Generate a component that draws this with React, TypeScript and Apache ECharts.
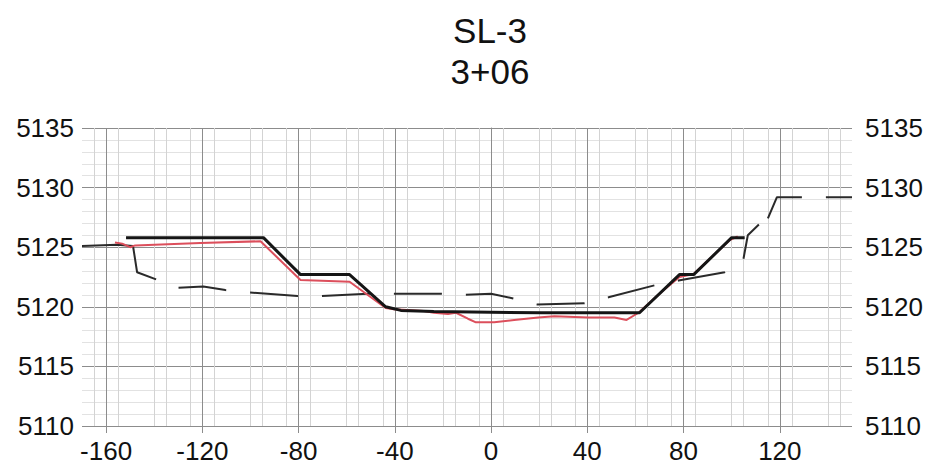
import React, { useEffect, useRef } from 'react';
import * as echarts from 'echarts';

const titleLines = ['SL-3', '3+06'];
const xTickLabels = [-160, -120, -80, -40, 0, 40, 80, 120];
const yTickLabels = [5110, 5115, 5120, 5125, 5130, 5135];

// existing ground tie-in (solid start of the dashed line)
const existingTieIn: [number, number][] = [
  [-170, 5125.1], [-155.4, 5125.2], [-148.8, 5125.1], [-147.1, 5122.9], [-139.2, 5122.3],
];
// existing ground (dashed)
const existingGround: [number, number][] = [
  [-139.2, 5122.3], [-130.4, 5121.6], [-119.6, 5121.7], [-110.4, 5121.4], [-100.4, 5121.2],
  [-80.4, 5120.9], [-70.4, 5120.9], [-51.3, 5121.1], [-40.8, 5121.1], [-20.8, 5121.1],
  [-10.8, 5121.0], [0, 5121.1], [9.2, 5120.7], [19.2, 5120.2], [38.8, 5120.3],
  [48.8, 5120.8], [67.9, 5121.8], [77.9, 5122.2], [97.1, 5122.9], [104.6, 5123.7],
  [106.7, 5126.0], [111.3, 5126.9],
];
// existing ground, right tie-in (dashed)
const existingRight: [number, number][] = [
  [111.3, 5126.9], [115, 5127.4], [118.8, 5129.2], [128.3, 5129.2], [150, 5129.2],
];
// survey section (red)
const surveySection: [number, number][] = [
  [-156.3, 5125.4], [-153.3, 5125.3], [-150, 5125.0], [-147.9, 5125.15], [-120.8, 5125.35],
  [-95.8, 5125.5], [-79.2, 5122.25], [-58.8, 5122.1], [-43.8, 5119.9], [-40.4, 5119.8],
  [-27.9, 5119.65], [-23.8, 5119.5], [-17.9, 5119.4], [-14.6, 5119.5], [-9.6, 5119.0],
  [-6.3, 5118.7], [1.3, 5118.7], [9.6, 5118.9], [19.6, 5119.1], [26.3, 5119.2],
  [40.4, 5119.1], [51.3, 5119.1], [56.3, 5118.9], [61.3, 5119.5], [70.8, 5121.25],
  [78.3, 5122.5], [84.2, 5122.75], [99.2, 5125.6], [102.5, 5125.9],
];
// design section (thick black)
const designSection: [number, number][] = [
  [-151.7, 5125.8], [-94.6, 5125.8], [-79.2, 5122.7], [-58.8, 5122.7], [-43.8, 5120.0],
  [-37.5, 5119.7], [-23.8, 5119.6], [20.8, 5119.5], [61.7, 5119.5], [78.3, 5122.7],
  [84.2, 5122.7], [100, 5125.8], [105.4, 5125.8],
];

const FONT = "'Liberation Sans', Arial, Helvetica, sans-serif";
const MAJOR = '#8c8c8c';
const MINOR = '#d3d3d3';
const NONE = 'rgba(0,0,0,0)';
const plain = (v: number) => String(v);

export default function App() {
  const ref = useRef<HTMLDivElement>(null);
  useEffect(() => {
    if (!ref.current) return;
    const chart = echarts.init(ref.current, null, { renderer: 'svg' });
    chart.setOption({
      animation: false,
      backgroundColor: '#ffffff',
      graphic: [
        {
          type: 'text', x: 490, y: 30,
          style: { text: titleLines[0], fontSize: 35, fontFamily: FONT, fill: '#111', textAlign: 'center', textVerticalAlign: 'middle' },
        },
        {
          type: 'text', x: 490, y: 71,
          style: { text: titleLines[1], fontSize: 35, fontFamily: FONT, fill: '#111', textAlign: 'center', textVerticalAlign: 'middle' },
        },
      ],
      grid: { left: 82, right: 78, top: 128, bottom: 40, containLabel: false },
      xAxis: [
        {
          type: 'value', min: -170, max: 150, interval: 5,
          axisLine: { show: false },
          axisTick: { show: false },
          axisLabel: {
            customValues: xTickLabels, formatter: plain,
            fontSize: 26, fontFamily: FONT, color: '#111', margin: 12,
          },
          splitLine: {
            show: true,
            lineStyle: { color: [NONE, MINOR, MAJOR, MINOR, NONE, NONE, MINOR, MINOR], width: 1 },
          },
        },
        {
          type: 'value', min: -170, max: 150, position: 'bottom',
          axisLine: { show: false },
          axisTick: { show: true, customValues: xTickLabels, length: 7, lineStyle: { color: MAJOR } },
          axisLabel: { show: false },
          splitLine: { show: false },
        },
      ],
      yAxis: [
        {
          type: 'value', min: yTickLabels[0], max: yTickLabels[yTickLabels.length - 1], interval: 5, position: 'left',
          axisLine: { show: false },
          axisTick: { show: true, length: 6, lineStyle: { color: MAJOR } },
          axisLabel: { fontSize: 26, fontFamily: FONT, color: '#111', margin: 8, formatter: plain },
          splitLine: { show: true, lineStyle: { color: MAJOR, width: 1 } },
          minorTick: { show: false, splitNumber: 5 },
          minorSplitLine: { show: true, lineStyle: { color: '#e2e2e2', width: 1 } },
        },
        {
          type: 'value', min: yTickLabels[0], max: yTickLabels[yTickLabels.length - 1], interval: 5, position: 'right',
          axisLine: { show: true, lineStyle: { color: MAJOR } },
          axisTick: { show: true, length: 10, lineStyle: { color: MAJOR } },
          axisLabel: { fontSize: 26, fontFamily: FONT, color: '#111', margin: 13, formatter: plain },
          splitLine: { show: false },
        },
      ],
      series: [
        {
          type: 'line', name: 'Existing tie-in', data: existingTieIn, showSymbol: false,
          lineStyle: { color: '#2a2a2a', width: 2 },
        },
        {
          type: 'line', name: 'Existing ground', data: existingGround, showSymbol: false,
          lineStyle: { color: '#2a2a2a', width: 2, type: [48, 24], dashOffset: 48 },
        },
        {
          type: 'line', name: 'Existing right', data: existingRight, showSymbol: false,
          lineStyle: { color: '#2a2a2a', width: 2, type: [48, 24], dashOffset: 61 },
        },
        {
          type: 'line', name: 'Survey', data: surveySection, showSymbol: false,
          lineStyle: { color: '#dc4f5c', width: 2 },
        },
        {
          type: 'line', name: 'Design', data: designSection, showSymbol: false,
          lineStyle: { color: '#151515', width: 3 },
        },
      ],
    });
    return () => chart.dispose();
  }, []);
  return <div ref={ref} style={{ width: 930, height: 466, position: 'absolute', left: 0, top: 0 }} />;
}
